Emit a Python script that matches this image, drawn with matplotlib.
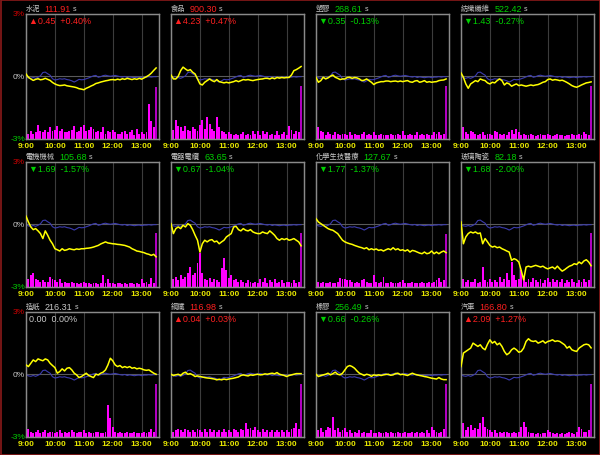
import matplotlib.pyplot as plt
from matplotlib.patches import Rectangle

plt.rcParams['font.family'] = ['Liberation Sans', 'Noto Sans CJK TC', 'DejaVu Sans']

# time axis: minutes after 9:00, 5-minute samples
minutes = list(range(0, 271, 5))
hour_ticks = [0, 60, 120, 180, 240]
hour_labels = ['9:00', '10:00', '11:00', '12:00', '13:00']

names = ['水泥', '食品', '塑膠', '紡織纖維', '電機機械', '電器電纜',
         '化學生技醫療', '玻璃陶瓷', '造紙', '鋼鐵', '橡膠', '汽車']
closes = ['111.91', '900.30', '268.61', '522.42', '105.68', '63.65',
          '127.67', '82.18', '216.31', '116.98', '256.49', '166.80']
changes = [0.45, 4.23, -0.35, -1.43, -1.69, -0.67, -1.77, -1.68, 0.00, 0.04, -0.66, 2.09]
pct_changes = [0.40, 0.47, -0.13, -0.27, -1.57, -1.04, -1.37, -2.00, 0.00, 0.03, -0.26, 1.27]

# market index (blue line), % change
market = [0.00, -0.08, -0.10, -0.06, -0.10, -0.05, 0.02, 0.18, 0.20, 0.12, 0.05,
          -0.12, -0.18, -0.16, -0.12, -0.14, -0.12, -0.16, -0.18, -0.22, -0.28, -0.22,
          -0.15, -0.17, -0.16, -0.12, -0.08, -0.03, 0.02, 0.04, -0.05, -0.02, 0.03,
          0.05, 0.02, 0.00, 0.02, 0.04, 0.01, -0.02, -0.04, -0.01, -0.06, -0.03,
          -0.05, -0.07, -0.05, -0.04, -0.07, -0.04, -0.04, -0.02, -0.04, -0.02, -0.02]

# sector % change (yellow lines)
cement = [0.11, -0.05, -0.13, -0.20, -0.15, -0.12, -0.17, -0.15, -0.10, -0.15, -0.20,
          -0.30, -0.37, -0.42, -0.45, -0.44, -0.42, -0.46, -0.48, -0.50, -0.52, -0.55,
          -0.60, -0.62, -0.65, -0.58, -0.53, -0.47, -0.42, -0.35, -0.32, -0.28, -0.25,
          -0.22, -0.20, -0.17, -0.16, -0.18, -0.14, -0.17, -0.12, -0.15, -0.10, -0.13,
          -0.16, -0.12, -0.15, -0.10, -0.14, -0.08, -0.02, 0.05, 0.15, 0.28, 0.40]
food = [0.06, -0.13, -0.13, 0.00, 0.27, 0.44, 0.35, 0.27, 0.32, 0.19, 0.11,
        -0.13, -0.37, -0.42, -0.29, -0.21, -0.13, -0.21, -0.26, -0.16, -0.26, -0.29,
        -0.32, -0.29, -0.32, -0.29, -0.26, -0.21, -0.26, -0.21, -0.16, -0.18, -0.16,
        -0.19, -0.21, -0.18, -0.16, -0.14, -0.13, -0.10, -0.10, -0.13, -0.08, -0.12,
        -0.06, -0.09, -0.06, -0.08, -0.06, -0.06, 0.06, 0.27, 0.32, 0.39, 0.47]
plastics = [-0.05, -0.29, -0.21, -0.05, -0.13, -0.08, 0.00, 0.06, -0.05, -0.10, -0.16,
            -0.13, -0.13, -0.06, -0.05, -0.10, -0.06, -0.08, -0.13, -0.21, -0.19, -0.13,
            -0.21, -0.29, -0.40, -0.32, -0.29, -0.26, -0.26, -0.23, -0.23, -0.26, -0.24,
            -0.23, -0.26, -0.23, -0.26, -0.23, -0.21, -0.27, -0.29, -0.23, -0.21, -0.29,
            -0.26, -0.21, -0.29, -0.26, -0.29, -0.27, -0.26, -0.21, -0.19, -0.18, -0.13]
textiles = [0.16, -0.05, -0.37, -0.58, -0.37, -0.29, -0.21, -0.26, -0.13, -0.18, -0.21,
            -0.32, -0.37, -0.29, -0.32, -0.21, -0.13, -0.21, -0.42, -0.32, -0.37, -0.48,
            -0.42, -0.37, -0.45, -0.42, -0.45, -0.48, -0.45, -0.42, -0.45, -0.42, -0.40,
            -0.35, -0.29, -0.26, -0.16, -0.13, -0.19, -0.16, -0.18, -0.21, -0.19, -0.24,
            -0.30, -0.37, -0.45, -0.50, -0.53, -0.48, -0.42, -0.37, -0.32, -0.30, -0.27]
machinery = [0.39, 0.11, -0.13, -0.26, -0.21, -0.32, -0.45, -0.69, -0.32, -0.53, -0.77,
             -0.94, -1.18, -1.23, -1.29, -1.18, -1.26, -1.23, -1.18, -1.21, -1.23, -1.19,
             -1.21, -1.18, -1.18, -1.16, -1.15, -1.13, -1.10, -1.06, -1.02, -0.95, -0.90,
             -0.85, -0.90, -0.92, -0.94, -0.95, -0.97, -0.98, -1.00, -1.02, -1.06, -1.10,
             -1.18, -1.23, -1.29, -1.31, -1.34, -1.37, -1.42, -1.45, -1.50, -1.45, -1.57]
cable = [0.03, -0.45, -0.21, -0.13, -0.21, -0.05, -0.13, 0.03, -0.05, -0.26, -0.53,
         -0.77, -1.34, -0.94, -0.77, -0.85, -0.77, -0.74, -0.85, -0.81, -0.94, -0.85,
         -0.77, -0.61, -0.53, -0.45, -0.13, -0.10, -0.26, -0.32, -0.21, -0.29, -0.32,
         -0.26, -0.37, -0.42, -0.45, -0.45, -0.37, -0.42, -0.45, -0.32, -0.42, -0.53,
         -0.69, -0.77, -0.69, -0.74, -0.69, -0.77, -0.74, -0.69, -0.77, -0.85, -1.04]
chem = [0.27, 0.11, 0.03, -0.05, -0.13, -0.21, -0.26, -0.29, -0.37, -0.45, -0.61,
        -0.77, -0.85, -0.90, -0.94, -0.97, -1.02, -1.06, -1.10, -1.13, -1.18, -1.13,
        -1.23, -1.18, -1.23, -1.19, -1.26, -1.23, -1.29, -1.23, -1.18, -1.23, -1.13,
        -1.23, -1.18, -1.26, -1.23, -1.29, -1.23, -1.34, -1.26, -1.29, -1.34, -1.39,
        -1.42, -1.34, -1.42, -1.39, -1.29, -1.42, -1.34, -1.42, -1.34, -1.29, -1.37]
glass = [0.11, -0.94, -0.61, -0.45, -0.37, -0.42, -0.37, -0.45, -0.42, -0.94, -0.69,
         -0.85, -1.02, -1.10, -1.06, -1.13, -1.10, -1.18, -1.23, -1.29, -1.34, -1.74,
         -1.66, -1.71, -1.82, -2.23, -2.68, -2.06, -2.02, -2.06, -2.02, -1.98, -2.02,
         -2.06, -2.02, -2.10, -2.15, -2.10, -2.06, -2.15, -2.02, -2.15, -2.26, -2.19,
         -2.10, -2.02, -1.98, -1.90, -1.94, -1.82, -1.90, -1.77, -1.71, -1.82, -2.00]
paper = [0.45, 0.37, 0.53, 0.69, 0.61, 0.74, 0.69, 0.65, 0.74, 0.69, 0.53,
         0.42, 0.32, 0.05, 0.13, 0.26, 0.16, 0.29, 0.32, 0.21, 0.05, -0.03,
         -0.16, -0.11, -0.03, 0.05, -0.06, -0.11, -0.16, 0.00, -0.03, 0.05, 0.10,
         0.21, 0.45, 0.77, 0.65, 0.45, 0.37, 0.42, 0.32, 0.37, 0.32, 0.37,
         0.29, 0.32, 0.26, 0.29, 0.26, 0.21, 0.19, 0.21, 0.13, 0.05, 0.00]
steel = [0.00, -0.06, -0.03, 0.00, -0.06, 0.05, 0.10, 0.00, 0.03, -0.03, -0.11,
         -0.08, -0.11, -0.13, -0.16, -0.18, -0.19, -0.21, -0.23, -0.27, -0.24, -0.27,
         -0.23, -0.26, -0.23, -0.21, -0.19, -0.16, -0.13, -0.06, -0.03, -0.06, -0.08,
         -0.03, -0.05, -0.02, 0.00, -0.03, -0.02, 0.02, 0.00, 0.03, 0.05, 0.02,
         0.08, 0.00, -0.03, -0.06, -0.11, -0.06, -0.03, 0.00, 0.03, 0.03, 0.03]
rubber = [0.00, -0.11, -0.06, -0.03, 0.00, 0.05, -0.03, 0.03, 0.10, 0.00, -0.03,
          0.05, 0.21, 0.37, 0.42, 0.37, 0.29, 0.16, 0.05, 0.00, -0.06, 0.00,
          -0.03, -0.10, -0.03, -0.06, -0.03, -0.06, -0.03, -0.01, 0.00, -0.05, -0.03,
          0.03, 0.05, -0.02, 0.00, -0.03, -0.06, 0.00, 0.05, 0.00, -0.03, -0.06,
          -0.08, -0.11, -0.13, -0.16, -0.19, -0.21, -0.23, -0.16, -0.23, -0.26, -0.26]
auto = [0.37, 1.02, 1.10, 1.18, 1.26, 1.50, 1.42, 1.34, 1.42, 1.26, 1.18,
        1.45, 1.66, 1.50, 1.58, 1.42, 1.50, 1.34, 1.10, 0.94, 1.02, 1.18,
        1.26, 1.18, 1.06, 1.10, 1.26, 1.58, 1.71, 1.61, 1.58, 1.61, 1.50,
        1.55, 1.61, 1.50, 1.58, 1.61, 1.66, 1.58, 1.61, 1.58, 1.50, 1.42,
        1.26, 1.34, 1.18, 1.13, 1.10, 1.26, 1.34, 1.42, 1.45, 1.42, 1.27]

# volume, as % of panel height (last one = closing auction)
cement_vol = [5, 4, 6, 4, 5, 11, 6, 5, 7, 5, 9, 6, 7, 10, 6, 8, 5, 5, 6, 7, 10, 5,
              6, 9, 11, 6, 7, 9, 8, 5, 6, 5, 9, 4, 6, 5, 7, 5, 4, 4, 5, 6, 4, 5,
              7, 3, 8, 4, 5, 4, 5, 28, 14, 9, 41]
food_vol = [12, 7, 15, 10, 9, 6, 10, 7, 6, 9, 8, 6, 11, 15, 8, 17, 12, 8, 6, 17, 9, 6,
            5, 4, 5, 4, 3, 4, 3, 4, 5, 3, 4, 3, 6, 4, 6, 3, 6, 4, 5, 3, 4, 3,
            6, 3, 4, 5, 3, 10, 7, 4, 6, 5, 42]
plastics_vol = [9, 9, 6, 5, 3, 5, 4, 3, 5, 4, 3, 4, 4, 3, 5, 3, 4, 3, 3, 4, 5, 3,
                4, 3, 5, 3, 3, 4, 3, 3, 3, 4, 3, 3, 4, 3, 6, 3, 3, 4, 3, 3, 5, 3,
                4, 3, 4, 3, 3, 5, 4, 5, 3, 4, 42]
textiles_vol = [6, 9, 5, 4, 6, 5, 4, 3, 4, 5, 3, 4, 4, 3, 6, 5, 4, 3, 4, 3, 5, 7,
                4, 8, 5, 3, 4, 3, 3, 4, 3, 2, 3, 4, 3, 3, 4, 3, 2, 3, 4, 3, 3, 2,
                3, 3, 4, 3, 3, 4, 3, 5, 4, 3, 42]
machinery_vol = [17, 6, 9, 11, 6, 5, 4, 5, 4, 4, 8, 6, 5, 4, 6, 3, 4, 3, 3, 4, 3, 3,
                 2, 3, 4, 3, 3, 2, 3, 3, 2, 3, 9, 3, 6, 3, 3, 2, 3, 3, 2, 3, 2, 3,
                 3, 2, 3, 2, 6, 3, 4, 2, 7, 3, 43]
cable_vol = [13, 6, 8, 5, 9, 6, 8, 11, 16, 9, 11, 19, 27, 11, 6, 5, 7, 4, 6, 5, 4, 15,
             23, 13, 7, 9, 5, 6, 4, 5, 4, 3, 5, 4, 3, 4, 3, 6, 4, 7, 3, 5, 4, 6,
             3, 4, 5, 3, 4, 4, 3, 5, 3, 4, 43]
chem_vol = [12, 4, 3, 4, 3, 3, 4, 3, 3, 4, 7, 6, 6, 5, 5, 4, 3, 4, 3, 5, 6, 4,
            3, 3, 9, 4, 3, 4, 8, 3, 3, 4, 3, 3, 3, 4, 5, 3, 3, 3, 4, 3, 3, 3,
            4, 3, 3, 4, 3, 4, 5, 7, 4, 5, 42]
glass_vol = [11, 6, 4, 5, 4, 4, 6, 3, 4, 16, 5, 4, 6, 4, 5, 4, 8, 4, 6, 11, 5, 20,
             9, 5, 6, 13, 8, 4, 6, 4, 7, 5, 4, 6, 3, 5, 7, 4, 6, 4, 5, 4, 6, 3,
             5, 4, 6, 4, 3, 5, 4, 6, 4, 5, 43]
paper_vol = [5, 6, 4, 3, 4, 5, 3, 4, 5, 3, 4, 4, 3, 4, 5, 3, 4, 3, 4, 5, 4, 3,
             4, 4, 5, 3, 4, 3, 3, 4, 4, 3, 3, 4, 25, 15, 8, 4, 3, 4, 3, 3, 4, 3,
             3, 4, 3, 3, 3, 4, 3, 4, 6, 4, 42]
steel_vol = [9, 4, 5, 6, 5, 4, 6, 5, 4, 5, 4, 6, 5, 4, 6, 4, 6, 4, 5, 4, 5, 4,
             6, 4, 5, 4, 6, 5, 4, 6, 5, 11, 6, 7, 5, 8, 5, 4, 6, 4, 5, 4, 5, 4,
             5, 4, 5, 4, 5, 4, 6, 7, 11, 6, 42]
rubber_vol = [9, 5, 7, 4, 5, 8, 7, 16, 5, 7, 4, 5, 7, 4, 5, 3, 4, 3, 5, 3, 4, 3,
              3, 5, 3, 3, 4, 3, 3, 4, 3, 4, 3, 3, 4, 3, 3, 4, 3, 3, 4, 3, 4, 3,
              4, 3, 5, 3, 8, 5, 4, 3, 4, 6, 42]
auto_vol = [17, 11, 5, 8, 9, 5, 7, 6, 11, 16, 8, 6, 5, 4, 5, 3, 4, 3, 4, 4, 3, 3,
            4, 3, 4, 8, 12, 8, 4, 3, 3, 2, 3, 2, 3, 3, 5, 4, 3, 2, 3, 2, 3, 2,
            3, 4, 3, 2, 4, 8, 6, 4, 4, 5, 42]

sectors = [cement, food, plastics, textiles, machinery, cable,
           chem, glass, paper, steel, rubber, auto]
volumes = [cement_vol, food_vol, plastics_vol, textiles_vol, machinery_vol, cable_vol,
           chem_vol, glass_vol, paper_vol, steel_vol, rubber_vol, auto_vol]

W, H = 600, 456
fig = plt.figure(figsize=(6, 4.56), dpi=100, facecolor='black')
fig.patches.append(Rectangle((0.5 / W, 0.5 / H), 1 - 1 / W, 1 - 1 / H, transform=fig.transFigure,
                             fill=False, edgecolor='#8b1a1a', lw=1.2))

col_left = [26, 171, 316, 461]
row_top = [15, 163, 313]
pw, ph = 133, 124.5

RED, GREEN, GREY = '#ff2020', '#00d000', '#c8c8c8'

for i in range(12):
    r, c = divmod(i, 4)
    x0, y0 = col_left[c], row_top[r]
    axv = fig.add_axes([x0 / W, 1 - (y0 + ph) / H, pw / W, ph / H])
    axv.set_facecolor('black')
    ax = axv.twinx()
    ax.set_zorder(axv.get_zorder() + 1)
    ax.patch.set_visible(False)

    # volume bars, closing auction in purple
    vol = volumes[i]
    n = len(vol)
    axv.bar(minutes[:n - 1], vol[:n - 1], width=4.0, color='#ff00ff', lw=0)
    axv.bar(minutes[n - 1], vol[n - 1], width=2.6, color='#b000c0', lw=0)
    axv.set_ylim(0, 100)
    axv.set_xlim(0, 276)
    axv.set_yticks([])
    axv.set_xticks(hour_ticks)
    axv.set_xticklabels(hour_labels, color='#e8e800', fontsize=6, fontweight='bold')
    axv.tick_params(axis='x', length=0, pad=2.5)
    axv.grid(axis='x', color='#3c3c3c', lw=0.8)
    axv.set_axisbelow(True)

    ax.axhline(0, color='#5a5a5a', lw=0.8, zorder=1)
    ax.plot(minutes, market, color='#3c3cb0', lw=0.8, zorder=2)
    ax.plot(minutes, sectors[i], color='#ffff00', lw=1.1, zorder=3)
    ax.set_ylim(-3, 3)
    ax.set_xlim(0, 276)
    ax.set_yticks([])

    for a in (ax, axv):
        for s in a.spines.values():
            s.set_color('#8a8a8a')
            s.set_linewidth(0.9)

    # header: name, close, small 's'
    ch = changes[i]
    col = RED if ch > 0 else (GREEN if ch < 0 else GREY)
    t_name = fig.text(x0 / W, 1 - (y0 - 6) / H, names[i], color=GREY, fontsize=5.2,
                      ha='left', va='center')
    a1 = ax.annotate(closes[i], xy=(1, 0.5), xycoords=t_name, xytext=(3, 0),
                     textcoords='offset points', color=col, fontsize=6.5,
                     ha='left', va='center', annotation_clip=False)
    ax.annotate('s', xy=(1, 0.4), xycoords=a1, xytext=(1.5, 0),
                textcoords='offset points', color=GREY, fontsize=5,
                ha='left', va='center', annotation_clip=False)

    if ch > 0:
        line2 = '\u25b2%.2f  +%.2f%%' % (ch, pct_changes[i])
    elif ch < 0:
        line2 = '\u25bc%.2f  %.2f%%' % (-ch, pct_changes[i])
    else:
        line2 = '%.2f  %.2f%%' % (ch, pct_changes[i])
    fig.text((x0 + 3) / W, 1 - (y0 + 6) / H, line2, color=col, fontsize=6.5,
             ha='left', va='center')

    if c == 0:
        fig.text(25 / W, 1 - y0 / H, '3%', color='#d00000', fontsize=6, ha='right', va='center')
        fig.text(25 / W, 1 - (y0 + ph / 2) / H, '0%', color=GREY, fontsize=6, ha='right', va='center')
        fig.text(25 / W, 1 - (y0 + ph) / H, '-3%', color=GREEN, fontsize=6, ha='right', va='center')

fig.savefig('out.png', dpi=100, facecolor='black')
